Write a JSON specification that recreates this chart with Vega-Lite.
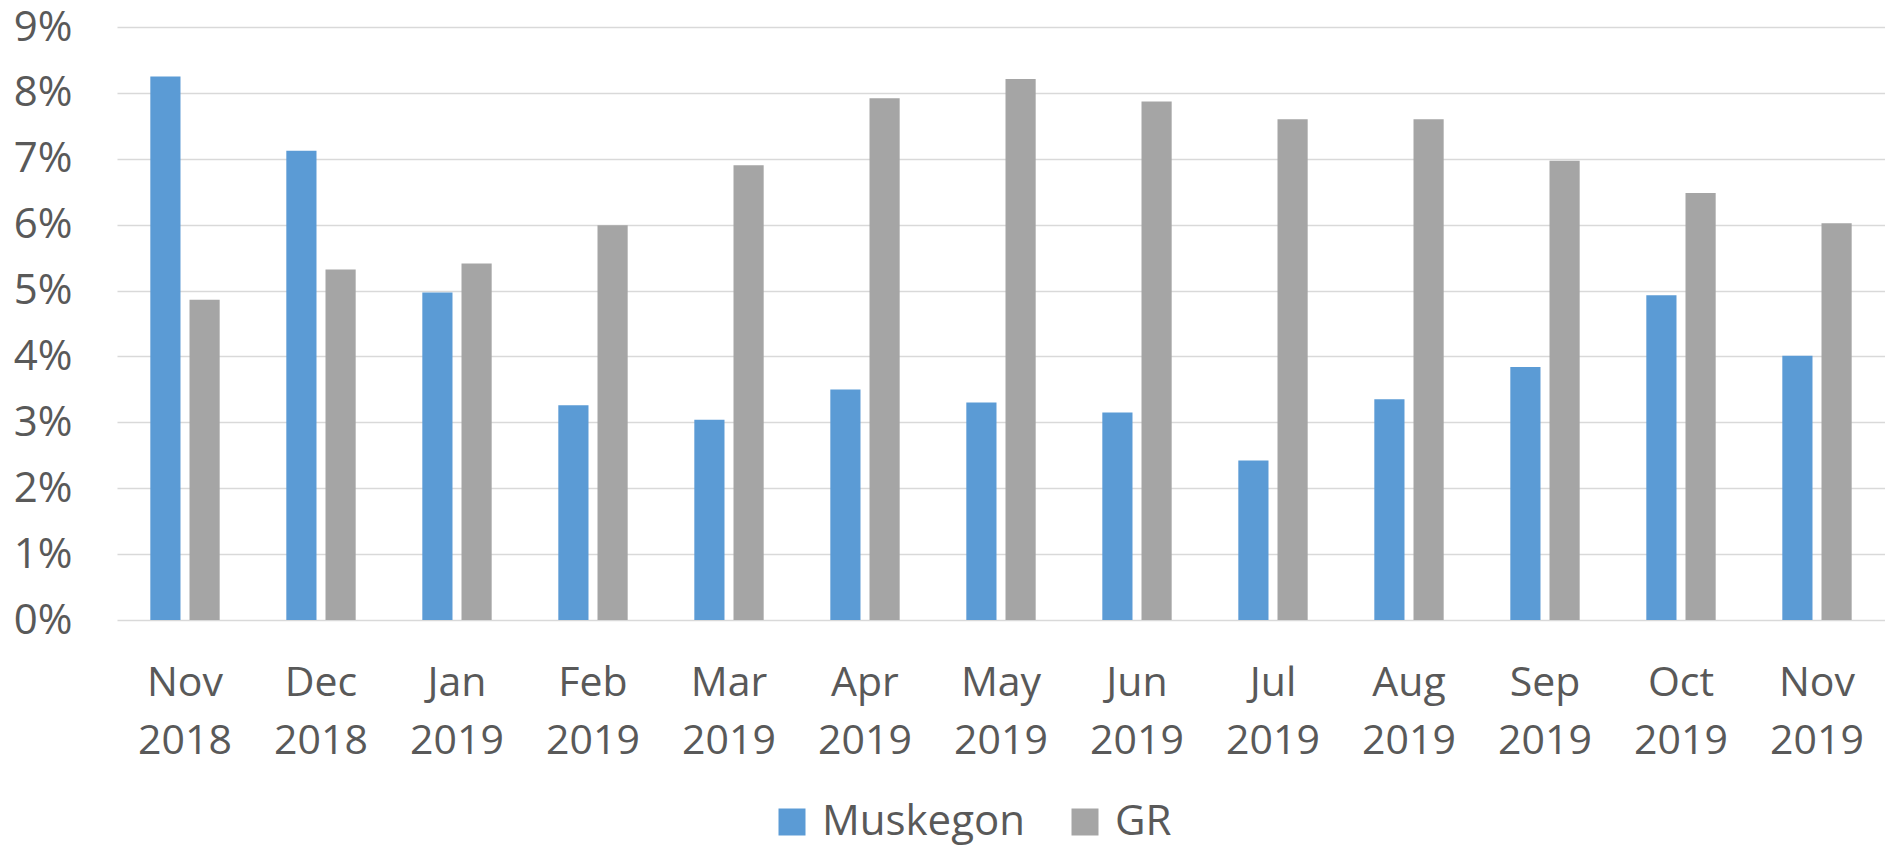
{
  "$schema": "https://vega.github.io/schema/vega-lite/v6.json",
  "autosize": {"type": "none"},
  "padding": {"left": 117, "top": 27, "right": 0, "bottom": 226},
  "width": 1768,
  "height": 593,
  "background": "white",
  "config": {
    "view": {"stroke": null},
    "font": "Open Sans"
  },
  "data": {
    "values": [
      {"month": "Nov 2018", "series": "Muskegon", "value": 0.0825},
      {"month": "Nov 2018", "series": "GR", "value": 0.0486},
      {"month": "Dec 2018", "series": "Muskegon", "value": 0.0712},
      {"month": "Dec 2018", "series": "GR", "value": 0.0532},
      {"month": "Jan 2019", "series": "Muskegon", "value": 0.0497},
      {"month": "Jan 2019", "series": "GR", "value": 0.0541},
      {"month": "Feb 2019", "series": "Muskegon", "value": 0.0326},
      {"month": "Feb 2019", "series": "GR", "value": 0.0599},
      {"month": "Mar 2019", "series": "Muskegon", "value": 0.0304},
      {"month": "Mar 2019", "series": "GR", "value": 0.0690},
      {"month": "Apr 2019", "series": "Muskegon", "value": 0.0350},
      {"month": "Apr 2019", "series": "GR", "value": 0.0792},
      {"month": "May 2019", "series": "Muskegon", "value": 0.0330},
      {"month": "May 2019", "series": "GR", "value": 0.0821},
      {"month": "Jun 2019", "series": "Muskegon", "value": 0.0315},
      {"month": "Jun 2019", "series": "GR", "value": 0.0787},
      {"month": "Jul 2019", "series": "Muskegon", "value": 0.0242},
      {"month": "Jul 2019", "series": "GR", "value": 0.0760},
      {"month": "Aug 2019", "series": "Muskegon", "value": 0.0335},
      {"month": "Aug 2019", "series": "GR", "value": 0.0760},
      {"month": "Sep 2019", "series": "Muskegon", "value": 0.0384},
      {"month": "Sep 2019", "series": "GR", "value": 0.0697},
      {"month": "Oct 2019", "series": "Muskegon", "value": 0.0493},
      {"month": "Oct 2019", "series": "GR", "value": 0.0648},
      {"month": "Nov 2019", "series": "Muskegon", "value": 0.0401},
      {"month": "Nov 2019", "series": "GR", "value": 0.0602}
    ]
  },
  "mark": {"type": "bar"},
  "encoding": {
    "x": {
      "field": "month",
      "type": "nominal",
      "sort": null,
      "scale": {"paddingInner": 0.49, "paddingOuter": 0.245},
      "axis": {
        "title": null,
        "labelExpr": "split(datum.label, ' ')",
        "labelAngle": 0,
        "labelFontSize": 41,
        "labelColor": "#595959",
        "labelLineHeight": 58,
        "labelPadding": 43,
        "labelBaseline": "top",
        "domain": false,
        "ticks": false,
        "grid": false
      }
    },
    "xOffset": {
      "field": "series",
      "type": "nominal",
      "sort": ["Muskegon", "GR"],
      "scale": {"paddingInner": 0.23, "paddingOuter": 0}
    },
    "y": {
      "field": "value",
      "type": "quantitative",
      "scale": {"domain": [0, 0.09], "nice": false},
      "axis": {
        "title": null,
        "values": [0, 0.01, 0.02, 0.03, 0.04, 0.05, 0.06, 0.07, 0.08, 0.09],
        "format": ".0%",
        "labelFontSize": 42,
        "labelColor": "#595959",
        "labelPadding": 45,
        "domain": false,
        "ticks": false,
        "grid": true,
        "gridColor": "#d9d9d9",
        "gridWidth": 1.5
      }
    },
    "color": {
      "field": "series",
      "type": "nominal",
      "scale": {"domain": ["Muskegon", "GR"], "range": ["#5b9bd5", "#a5a5a5"]},
      "legend": {
        "title": null,
        "orient": "none",
        "direction": "horizontal",
        "legendX": 654,
        "legendY": 774,
        "symbolType": "square",
        "symbolSize": 729,
        "symbolStrokeWidth": 0,
        "symbolOpacity": 1,
        "labelFontSize": 42,
        "labelColor": "#595959",
        "labelOffset": 9,
        "columnPadding": 38,
        "labelLimit": 400
      }
    }
  }
}
